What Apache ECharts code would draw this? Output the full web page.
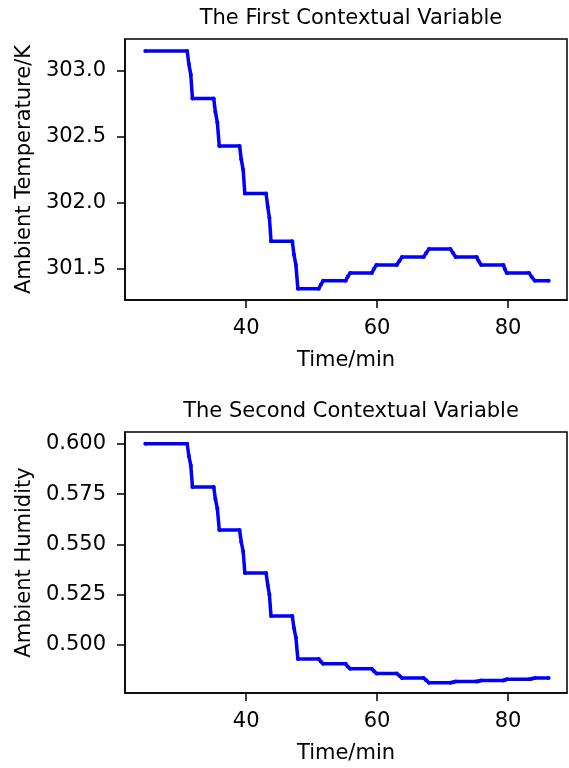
<!DOCTYPE html>
<html>
<head>
<meta charset="utf-8">
<script src="https://cdn.jsdelivr.net/npm/echarts@6/dist/echarts.min.js"></script>
<style>
html, body { margin: 0; padding: 0; background: #fff; }
#main { width: 569px; height: 768px; }
</style>
</head>
<body>
<div id="main"></div>
<script>
// 时间轴 (min)
var times = [24.6, 31.0, 31.25, 31.55, 31.8, 35.05, 35.3, 35.6, 35.9, 39.0, 39.25, 39.55, 39.8,
	43.05, 43.3, 43.55, 43.8, 47.05, 47.3, 47.6, 47.9, 51.1, 51.4, 51.75, 55.2, 55.5, 55.9,
	59.2, 59.5, 59.9, 63.0, 63.4, 63.8, 67.1, 67.5, 67.9, 71.2, 71.6, 72.0, 75.2, 75.5, 75.9,
	79.3, 79.5, 79.8, 83.2, 83.6, 84.1, 86.2];

// 环境温度 (K)
var temperature = [303.15, 303.15, 303.05, 302.97, 302.79, 302.79, 302.69, 302.61, 302.43, 302.43, 302.33, 302.25, 302.07,
	302.07, 301.97, 301.89, 301.71, 301.71, 301.61, 301.53, 301.35, 301.35, 301.38, 301.41, 301.41, 301.44, 301.47,
	301.47, 301.50, 301.53, 301.53, 301.56, 301.59, 301.59, 301.62, 301.65, 301.65, 301.62, 301.59, 301.59, 301.56, 301.53,
	301.53, 301.50, 301.47, 301.47, 301.44, 301.41, 301.41];

// 环境湿度
var humidity = [0.6000, 0.6000, 0.5940, 0.5893, 0.5786, 0.5786, 0.5726, 0.5679, 0.5572, 0.5572, 0.5512, 0.5465, 0.5358,
	0.5358, 0.5298, 0.5251, 0.5144, 0.5144, 0.5084, 0.5037, 0.4930, 0.4930, 0.4918, 0.4906, 0.4906, 0.4893, 0.4881,
	0.4881, 0.4870, 0.4858, 0.4858, 0.4847, 0.4836, 0.4836, 0.4824, 0.4812, 0.4812, 0.4815, 0.4818, 0.4818, 0.4820, 0.4823,
	0.4823, 0.4826, 0.4829, 0.4829, 0.4832, 0.4836, 0.4836];

var xTicks = [40, 60, 80];
var tempTicks = [301.5, 302.0, 302.5, 303.0];
var humTicks = [0.500, 0.525, 0.550, 0.575, 0.600];

function pairs(xs, ys) {
	var out = [];
	for (var i = 0; i < xs.length; i++) out.push([xs[i], ys[i]]);
	return out;
}

var font = 'DejaVu Sans';
var fs = 21;
var black = '#000';

function xAxisFor(idx) {
	return {
		type: 'value',
		gridIndex: idx,
		min: 21.5,
		max: 89.0,
		name: 'Time/min',
		nameLocation: 'middle',
		nameGap: 50,
		nameTextStyle: { color: black, fontFamily: font, fontSize: fs },
		axisLine: { show: true, lineStyle: { color: black, width: 1.5 } },
		axisTick: { show: true, length: 8, customValues: xTicks, lineStyle: { color: black, width: 1.5 } },
		axisLabel: { customValues: xTicks, margin: 18, color: black, fontFamily: font, fontSize: fs },
		splitLine: { show: false }
	};
}

function yAxisFor(idx, name, min, max, ticks, digits) {
	return {
		type: 'value',
		gridIndex: idx,
		min: min,
		max: max,
		name: name,
		nameLocation: 'middle',
		nameGap: 90,
		nameTextStyle: { color: black, fontFamily: font, fontSize: fs },
		axisLine: { show: true, lineStyle: { color: black, width: 1.5 } },
		axisTick: { show: true, length: 8, customValues: ticks, lineStyle: { color: black, width: 1.5 } },
		axisLabel: {
			customValues: ticks, margin: 19, color: black, fontFamily: font, fontSize: fs,
			formatter: function (v) { return v.toFixed(digits); }
		},
		splitLine: { show: false }
	};
}

var lineStyle = { color: '#0000ff', width: 3.5 };

var myChart = echarts.init(document.getElementById('main'));

var option = {
	animation: false,
	backgroundColor: '#fff',
	title: [{
		text: 'The First Contextual Variable',
		left: 346, top: 3, textAlign: 'center',
		textStyle: { color: black, fontFamily: font, fontSize: fs, fontWeight: 'normal' }
	}, {
		text: 'The Second Contextual Variable',
		left: 346, top: 396, textAlign: 'center',
		textStyle: { color: black, fontFamily: font, fontSize: fs, fontWeight: 'normal' }
	}],
	grid: [
		{ left: 125, top: 39, width: 442, height: 261, show: true, borderColor: black, borderWidth: 1.5, backgroundColor: '#fff' },
		{ left: 125, top: 432, width: 442, height: 261, show: true, borderColor: black, borderWidth: 1.5, backgroundColor: '#fff' }
	],
	xAxis: [xAxisFor(0), xAxisFor(1)],
	yAxis: [
		yAxisFor(0, 'Ambient Temperature/K', 301.265, 303.24, tempTicks, 1),
		yAxisFor(1, 'Ambient Humidity', 0.4761, 0.6059, humTicks, 3)
	],
	series: [{
		type: 'line',
		xAxisIndex: 0, yAxisIndex: 0,
		data: pairs(times, temperature),
		symbol: 'circle', symbolSize: 4, showSymbol: true,
		itemStyle: { color: '#0000ff' },
		lineStyle: lineStyle
	}, {
		type: 'line',
		xAxisIndex: 1, yAxisIndex: 1,
		data: pairs(times, humidity),
		symbol: 'circle', symbolSize: 4, showSymbol: true,
		itemStyle: { color: '#0000ff' },
		lineStyle: lineStyle
	}]
};

myChart.setOption(option);
</script>
</body>
</html>
